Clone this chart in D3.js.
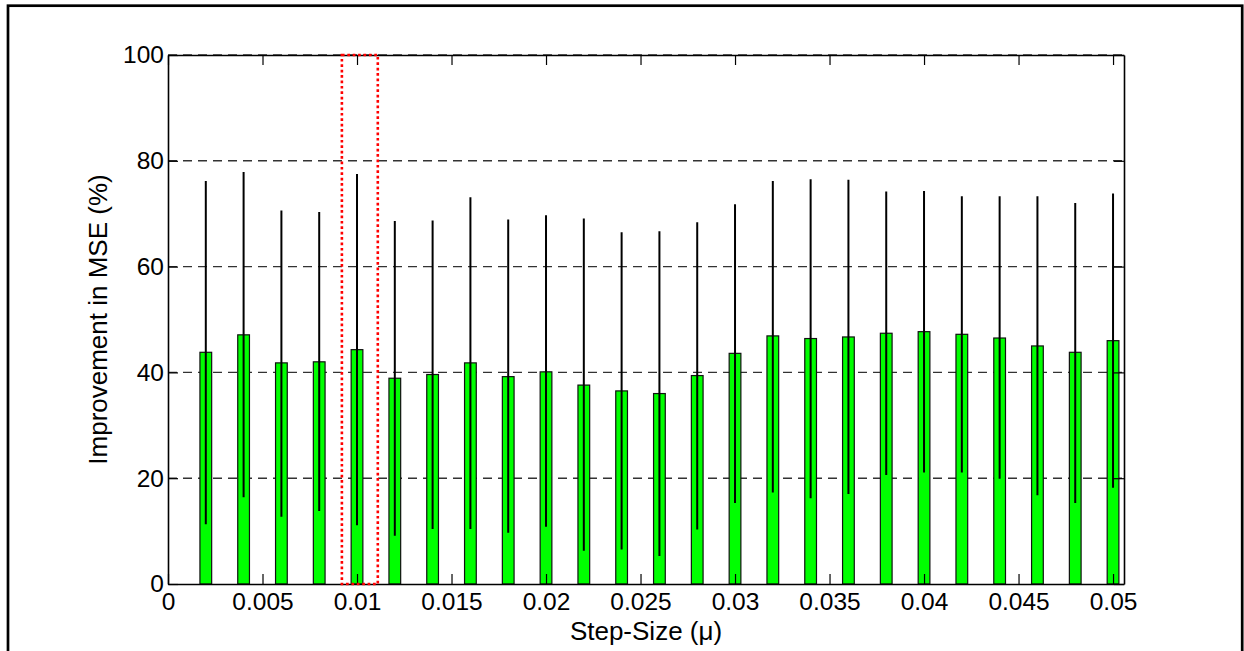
<!DOCTYPE html>
<html>
<head>
<meta charset="utf-8">
<script src="https://cdn.jsdelivr.net/npm/d3@7"></script>
<style>
  body { margin: 0; background: white; }
  text { font-family: "Liberation Sans", Arial, sans-serif; fill: black; }
</style>
</head>
<body>
<div id="chart"></div>
<script>
// Step sizes (mu) of every bar
const stepSizes = [0.002, 0.004, 0.006, 0.008, 0.010, 0.012, 0.014, 0.016, 0.018, 0.020,
                   0.022, 0.024, 0.026, 0.028, 0.030, 0.032, 0.034, 0.036, 0.038, 0.040,
                   0.042, 0.044, 0.046, 0.048, 0.050];
// Mean improvement in MSE (%)
const meanImprovement = [43.8, 47.1, 41.8, 42.0, 44.3, 38.9, 39.6, 41.8, 39.2, 40.1,
                         37.6, 36.5, 36.0, 39.4, 43.6, 46.9, 46.4, 46.7, 47.4, 47.7,
                         47.2, 46.5, 45.0, 43.8, 46.0];
// Error bar ends
const upperBound = [76.2, 77.9, 70.6, 70.3, 77.5, 68.6, 68.7, 73.1, 68.9, 69.7,
                    69.1, 66.5, 66.7, 68.4, 71.8, 76.2, 76.5, 76.4, 74.2, 74.3,
                    73.3, 73.3, 73.3, 72.0, 73.8];
const lowerBound = [11.3, 16.4, 12.7, 13.8, 11.1, 9.1, 10.4, 10.4, 9.7, 10.8,
                    6.3, 6.5, 5.3, 10.3, 15.3, 17.3, 16.2, 17.0, 20.6, 21.1,
                    21.1, 19.9, 16.8, 15.3, 18.2];

const xTicks = [0, 0.005, 0.01, 0.015, 0.02, 0.025, 0.03, 0.035, 0.04, 0.045, 0.05];
const xTickLabels = ["0", "0.005", "0.01", "0.015", "0.02", "0.025", "0.03", "0.035", "0.04", "0.045", "0.05"];
const yTicks = [0, 20, 40, 60, 80, 100];
const gridLevels = [20, 40, 60, 80, 100];
// Highlighted step-size range (dotted red box)
const highlightRange = [0.0092, 0.0111];

const W = 1244, H = 651;
const mLeft = 168, mRight = 1124, mTop = 55, mBottom = 584;
const barWidth = 0.00062; // in step-size units

const x = d3.scaleLinear().domain([0, 0.05058]).range([mLeft, mRight]);
const y = d3.scaleLinear().domain([0, 100]).range([mBottom, mTop]);

const svg = d3.select("#chart").append("svg")
    .attr("width", W).attr("height", H);

// outer figure frame
svg.append("rect").attr("x", 8).attr("y", 5.7).attr("width", 1234.2).attr("height", 700)
    .attr("fill", "none").attr("stroke", "black").attr("stroke-width", 2.7);

// dashed horizontal grid
svg.append("g").selectAll("line").data(gridLevels).enter().append("line")
    .attr("x1", mLeft).attr("x2", mRight)
    .attr("y1", d => y(d)).attr("y2", d => y(d))
    .attr("stroke", "#333").attr("stroke-width", 1.4).attr("stroke-dasharray", "9,6");

const data = stepSizes.map((s, i) => ({ s: s, m: meanImprovement[i], lo: lowerBound[i], hi: upperBound[i] }));

// bars
svg.append("g").selectAll("rect").data(data).enter().append("rect")
    .attr("x", d => x(d.s - barWidth / 2)).attr("width", x(barWidth) - x(0))
    .attr("y", d => y(d.m)).attr("height", d => y(0) - y(d.m))
    .attr("fill", "#00ff00").attr("stroke", "#111").attr("stroke-width", 1.2);

// error bars
svg.append("g").selectAll("line").data(data).enter().append("line")
    .attr("x1", d => x(d.s)).attr("x2", d => x(d.s))
    .attr("y1", d => y(d.hi)).attr("y2", d => y(d.lo))
    .attr("stroke", "black").attr("stroke-width", 2);

// axes, ticks pointing inward
const fmt = (d, i) => xTickLabels[i];
const styleAxis = g => {
    g.select(".domain").attr("stroke", "black").attr("stroke-width", 1.6);
    g.selectAll(".tick line").attr("stroke", "black").attr("stroke-width", 1.2);
    g.selectAll("text").attr("font-size", 24.5).attr("font-family", "'Liberation Sans', Arial, sans-serif");
};

svg.append("g").attr("transform", "translate(0," + mBottom + ")")
    .call(d3.axisBottom(x).tickValues(xTicks).tickFormat(fmt).tickSizeInner(-10).tickSizeOuter(0).tickPadding(9))
    .call(styleAxis);
svg.append("g").attr("transform", "translate(0," + mTop + ")")
    .call(d3.axisTop(x).tickValues(xTicks).tickFormat("").tickSizeInner(-10).tickSizeOuter(0))
    .call(styleAxis);
svg.append("g").attr("transform", "translate(" + mLeft + ",0)")
    .call(d3.axisLeft(y).tickValues(yTicks).tickSizeInner(-10).tickSizeOuter(0).tickPadding(4))
    .call(styleAxis);
svg.append("g").attr("transform", "translate(" + mRight + ",0)")
    .call(d3.axisRight(y).tickValues(yTicks).tickFormat("").tickSizeInner(-10).tickSizeOuter(0))
    .call(styleAxis);

// highlight box
svg.append("rect")
    .attr("x", x(highlightRange[0])).attr("width", x(highlightRange[1]) - x(highlightRange[0]))
    .attr("y", y(100)).attr("height", y(0) - y(100))
    .attr("fill", "none").attr("stroke", "#ff0000").attr("stroke-width", 2.6)
    .attr("stroke-dasharray", "2.7,2.7");

// axis titles
svg.append("text").attr("x", (mLeft + mRight) / 2).attr("y", 640)
    .attr("text-anchor", "middle").attr("font-size", 26)
    .text("Step-Size (\u03bc)");
svg.append("text").attr("transform", "translate(107," + (mTop + mBottom) / 2 + ") rotate(-90)")
    .attr("text-anchor", "middle").attr("font-size", 26)
    .text("Improvement in MSE (%)");
</script>
</body>
</html>
